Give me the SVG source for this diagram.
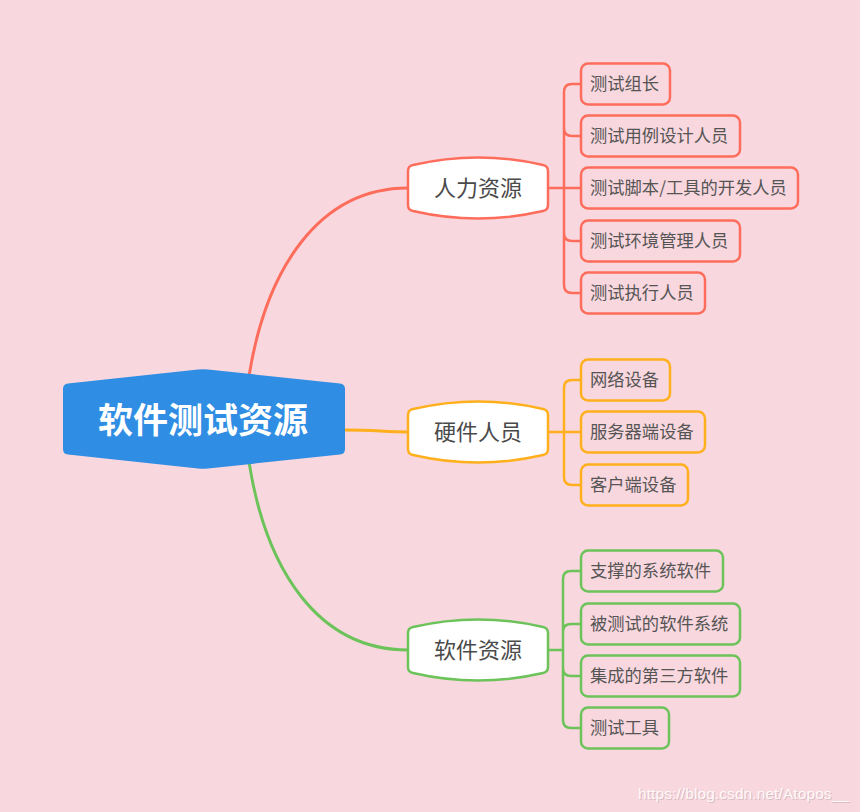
<svg xmlns="http://www.w3.org/2000/svg" width="860" height="812" viewBox="0 0 860 812">
<style>
.lbl{font-family:"Noto Sans CJK SC","Liberation Sans",sans-serif;fill:#555;}
.l1{font-size:22px;text-anchor:middle;dominant-baseline:central;fill:#4a4a4a;}
.l2{font-size:17.3px;dominant-baseline:central;}
.n1{fill:#fff;stroke-width:2.5;}
.n2{fill:none;stroke-width:2.5;}
.red{stroke:#fe6d5b;}
.org{stroke:#ffb01c;}
.grn{stroke:#6cc35a;}
.c{fill:none;stroke-width:3;stroke-linecap:round;}
.b{fill:none;stroke-width:2.5;}
.wm{font-family:"Liberation Sans",sans-serif;font-size:15.5px;}
</style>
<rect width="860" height="812" fill="#f9d7de"/>
<g id="connectors">
<path class="c red" d="M249,376 C266,270 318,188 408,188"/>
<path class="c org" d="M345,430 C375,430 385,432 408,432"/>
<path class="c grn" d="M249,462 C266,570 318,650 408,650"/>
<path class="b red" d="M548,188 H564 M581,84 H572 Q564,84 564,92 V285 Q564,293 572,293 H581 M564,128 Q564,136 572,136 H581 M564,188 H581 M564,233 Q564,241 572,241 H581"/>
<path class="b org" d="M548,432 H564 M581,380 H572 Q564,380 564,388 V477 Q564,485 572,485 H581 M564,432 H581"/>
<path class="b grn" d="M548,650 H563 M581,571 H571 Q563,571 563,579 V720 Q563,728 571,728 H581 M563,632 Q563,624 571,624 H581 M563,668 Q563,676 571,676 H581"/>
</g>
<g id="root">
<path d="M63,389 Q63,384 68,383.5 L198,369.5 Q203,369 208,369.5 L340,383.5 Q345,384 345,389 L345,449 Q345,454 340,454.5 L208,468.5 Q203,469 198,468.5 L68,454.5 Q63,454 63,449 Z" fill="#2f8de3"/>
<text x="203" y="417" font-family="Noto Sans CJK SC,sans-serif" font-size="35" font-weight="bold" fill="#fff" text-anchor="middle" dominant-baseline="central">软件测试资源</text>
</g>
<g id="n-renli">
<path class="n1 red" d="M408,171 Q408,166 413,165 Q478,150 543,165 Q548,166 548,171 L548,205 Q548,210 543,211 Q478,226 413,211 Q408,210 408,205 Z"/>
<text class="lbl l1" x="478" y="186">人力资源</text>
</g>
<g id="n-yingjian">
<path class="n1 org" d="M408,415 Q408,410 413,409 Q478,394 543,409 Q548,410 548,415 L548,449 Q548,454 543,455 Q478,470 413,455 Q408,454 408,449 Z"/>
<text class="lbl l1" x="478" y="430">硬件人员</text>
</g>
<g id="n-ruanjian">
<path class="n1 grn" d="M408,633 Q408,628 413,627 Q478,612 543,627 Q548,628 548,633 L548,667 Q548,672 543,673 Q478,688 413,673 Q408,672 408,667 Z"/>
<text class="lbl l1" x="478" y="648">软件资源</text>
</g>
<g id="r1"><rect class="n2 red" x="581" y="63.5" width="89" height="41" rx="7"/><text class="lbl l2" x="590" y="82.5">测试组长</text></g>
<g id="r2"><rect class="n2 red" x="581" y="115.5" width="159" height="41" rx="7"/><text class="lbl l2" x="590" y="134.5">测试用例设计人员</text></g>
<g id="r3"><rect class="n2 red" x="581" y="167.5" width="217" height="41" rx="7"/><text class="lbl l2" x="590" y="186.5">测试脚本/工具的开发人员</text></g>
<g id="r4"><rect class="n2 red" x="581" y="220.5" width="159" height="41" rx="7"/><text class="lbl l2" x="590" y="239.5">测试环境管理人员</text></g>
<g id="r5"><rect class="n2 red" x="581" y="272.5" width="124" height="41" rx="7"/><text class="lbl l2" x="590" y="291.5">测试执行人员</text></g>
<g id="o1"><rect class="n2 org" x="581" y="359.5" width="89" height="41" rx="7"/><text class="lbl l2" x="590" y="378.5">网络设备</text></g>
<g id="o2"><rect class="n2 org" x="581" y="411.5" width="124" height="41" rx="7"/><text class="lbl l2" x="590" y="430.5">服务器端设备</text></g>
<g id="o3"><rect class="n2 org" x="581" y="464.5" width="107" height="41" rx="7"/><text class="lbl l2" x="590" y="483.5">客户端设备</text></g>
<g id="g1"><rect class="n2 grn" x="581" y="550.5" width="142" height="41" rx="7"/><text class="lbl l2" x="590" y="569.5">支撑的系统软件</text></g>
<g id="g2"><rect class="n2 grn" x="581" y="603.5" width="159" height="41" rx="7"/><text class="lbl l2" x="590" y="622.5">被测试的软件系统</text></g>
<g id="g3"><rect class="n2 grn" x="581" y="655.5" width="159" height="41" rx="7"/><text class="lbl l2" x="590" y="674.5">集成的第三方软件</text></g>
<g id="g4"><rect class="n2 grn" x="581" y="707.5" width="88" height="41" rx="7"/><text class="lbl l2" x="590" y="726.5">测试工具</text></g>
<text class="wm" x="639" y="800" textLength="211" fill="#c9a9b0" opacity="0.6">https://blog.csdn.net/Atopos__</text>
<text class="wm" x="638" y="799" textLength="211" fill="#ffffff" opacity="0.9">https://blog.csdn.net/Atopos__</text>
</svg>
